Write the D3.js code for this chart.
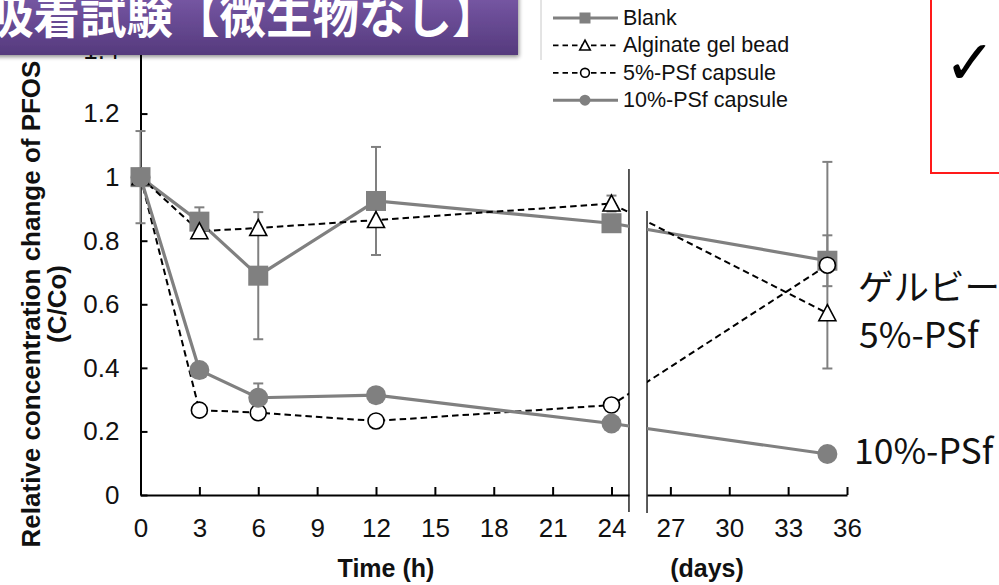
<!DOCTYPE html>
<html>
<head>
<meta charset="utf-8">
<script src="https://cdn.jsdelivr.net/npm/d3@7"></script>
<style>
  html, body { margin: 0; padding: 0; background: #fff; overflow: hidden; }
  svg { display: block; }
</style>
</head>
<body>
<svg id="chart" width="999" height="585"></svg>
<script>
// Sampling times (h); the last point sits on the "days" part of the axis
const times = [0, 3, 6, 12, 24, 35];
const seriesNames = ["Blank", "Alginate gel bead", "5%-PSf capsule", "10%-PSf capsule"];
// C/Co for each series
const blank    = [1.0, 0.86, 0.69, 0.925, 0.855, 0.737];
const alginate = [1.0, 0.83, 0.84, 0.865, 0.917, 0.572];
const psf5     = [1.0, 0.267, 0.259, 0.233, 0.283, 0.723];
const psf10    = [1.0, 0.393, 0.306, 0.314, 0.225, 0.129];
// Standard deviations (0 = no bar)
const blankErr    = [0.145, 0.045, 0.2, 0.17, 0, 0.08];
const alginateErr = [0, 0, 0, 0, 0.025, 0];
const psf5Err     = [0, 0, 0, 0, 0, 0.325];
const psf10Err    = [0, 0, 0.045, 0, 0, 0];
// Axis ticks
const hourTicks = [0, 3, 6, 9, 12, 15, 18, 21, 24];
const dayTicks = [27, 30, 33, 36];
const yTicks = [0, 0.2, 0.4, 0.6, 0.8, 1, 1.2, 1.4];
// Axis break (in axis units)
const breakStart = 24.89, breakEnd = 25.81;

const titleText = "吸着試験【微生物なし】";
const yTitle = ["Relative concentration change of PFOS", "(C/Co)"];
const notes = [
  { text: "ゲルビーズ", x: 858, y: 300 },
  { text: "5%-PSf", x: 859, y: 348 },
  { text: "10%-PSf", x: 854, y: 464 }
];

const GRAY = "#808080";
const FONT = "'Liberation Sans', Arial, Helvetica, sans-serif";

const svg = d3.select("#chart");

const x = d3.scaleLinear().domain([0, 36]).range([140.5, 847]);
const y = d3.scaleLinear().domain([0, 1.4]).range([495, 50]);

const xl = d3.scaleLinear().domain([0, breakStart]).range([x(0), x(breakStart)]);
const xr = d3.scaleLinear().domain([breakEnd, 36]).range([x(breakEnd), x(36)]);

// ---- axes ----
const axisStyle = g => {
  g.selectAll("path.domain").attr("stroke", "#000").attr("stroke-width", 2);
  g.selectAll(".tick line").attr("stroke", "#000").attr("stroke-width", 2);
  g.selectAll(".tick text").attr("font-family", FONT).attr("font-size", 26).attr("fill", "#111");
};

svg.append("g")
  .attr("transform", `translate(${x(0)},0)`)
  .call(d3.axisLeft(y).tickValues(yTicks).tickSizeInner(-7).tickSizeOuter(0).tickPadding(21)
    .tickFormat(d => String(d)))
  .call(axisStyle);

svg.append("g")
  .attr("transform", `translate(0,${y(0)})`)
  .call(d3.axisBottom(xl).tickValues(hourTicks).tickSizeInner(-8).tickSizeOuter(0).tickPadding(24))
  .call(axisStyle);

svg.append("g")
  .attr("transform", `translate(0,${y(0)})`)
  .call(d3.axisBottom(xr).tickValues(dayTicks).tickSizeInner(-8).tickSizeOuter(0).tickPadding(24))
  .call(axisStyle);

// break edges
svg.append("line").attr("x1", x(breakStart)).attr("x2", x(breakStart))
  .attr("y1", 169).attr("y2", 512).attr("stroke", "#000").attr("stroke-width", 1.3);
svg.append("line").attr("x1", x(breakEnd)).attr("x2", x(breakEnd))
  .attr("y1", 211).attr("y2", 513).attr("stroke", "#000").attr("stroke-width", 1.3);

// axis titles
svg.append("text").attr("x", 386).attr("y", 577).attr("text-anchor", "middle")
  .attr("font-family", FONT).attr("font-weight", "bold").attr("font-size", 25).attr("fill", "#111")
  .text("Time (h)");
svg.append("text").attr("x", 707).attr("y", 577).attr("text-anchor", "middle")
  .attr("font-family", FONT).attr("font-weight", "bold").attr("font-size", 25).attr("fill", "#111")
  .text("(days)");
const yt = svg.append("text").attr("transform", "translate(0,304) rotate(-90)")
  .attr("text-anchor", "middle").attr("font-family", FONT).attr("font-weight", "bold")
  .attr("font-size", 26).attr("fill", "#111");
yt.append("tspan").attr("x", 0).attr("y", 40).text(yTitle[0]);
yt.append("tspan").attr("x", 0).attr("y", 66).text(yTitle[1]);

// ---- data ----
const series = [
  { name: seriesNames[0], vals: blank, err: blankErr, dashed: false, marker: "square" },
  { name: seriesNames[1], vals: alginate, err: alginateErr, dashed: true, marker: "triangle" },
  { name: seriesNames[2], vals: psf5, err: psf5Err, dashed: true, marker: "open" },
  { name: seriesNames[3], vals: psf10, err: psf10Err, dashed: false, marker: "filled" }
];

const defs = svg.append("defs");
const clip = defs.append("clipPath").attr("id", "brk");
clip.append("rect").attr("x", 0).attr("y", 0).attr("width", x(breakStart)).attr("height", 585);
clip.append("rect").attr("x", x(breakEnd)).attr("y", 0).attr("width", 999 - x(breakEnd)).attr("height", 585);

const plot = svg.append("g");

// error bars
series.forEach(s => {
  times.forEach((t, i) => {
    const e = s.err[i];
    if (!e) return;
    const cx = x(t);
    const g = plot.append("g").attr("stroke", GRAY).attr("stroke-width", 2);
    g.append("line").attr("x1", cx).attr("x2", cx).attr("y1", y(s.vals[i] + e)).attr("y2", y(s.vals[i] - e));
    g.append("line").attr("x1", cx - 5).attr("x2", cx + 5).attr("y1", y(s.vals[i] + e)).attr("y2", y(s.vals[i] + e));
    g.append("line").attr("x1", cx - 5).attr("x2", cx + 5).attr("y1", y(s.vals[i] - e)).attr("y2", y(s.vals[i] - e));
  });
});

const line = d3.line().x(d => x(d.t)).y(d => y(d.v));

function drawMarker(g, type, cx, cy, scale) {
  const k = scale || 1;
  if (type === "square") {
    g.append("rect").attr("x", cx - 10 * k).attr("y", cy - 10 * k).attr("width", 20 * k).attr("height", 20 * k)
      .attr("fill", GRAY);
  } else if (type === "filled") {
    g.append("circle").attr("cx", cx).attr("cy", cy).attr("r", 10 * k).attr("fill", GRAY);
  } else if (type === "open") {
    g.append("circle").attr("cx", cx).attr("cy", cy).attr("r", 8 * k).attr("fill", "#fff")
      .attr("stroke", "#000").attr("stroke-width", 1.6);
  } else if (type === "triangle") {
    const p = d3.path();
    p.moveTo(cx, cy - 8.5 * k);
    p.lineTo(cx + 8.5 * k, cy + 7.5 * k);
    p.lineTo(cx - 8.5 * k, cy + 7.5 * k);
    p.closePath();
    g.append("path").attr("d", p.toString()).attr("fill", "#fff")
      .attr("stroke", "#000").attr("stroke-width", 1.6).attr("stroke-linejoin", "miter");
  }
}

series.forEach(s => {
  const pts = times.map((t, i) => ({ t, v: s.vals[i] }));
  plot.append("path").datum(pts).attr("d", line).attr("fill", "none")
    .attr("clip-path", "url(#brk)")
    .attr("stroke", s.dashed ? "#000" : GRAY)
    .attr("stroke-width", s.dashed ? 2 : 3.2)
    .attr("stroke-dasharray", s.dashed ? "6.5,4" : null);
});

series.forEach(s => {
  const g = plot.append("g");
  times.forEach((t, i) => drawMarker(g, s.marker, x(t), y(s.vals[i])));
});

// ---- legend ----
const legend = svg.append("g");
legend.append("line").attr("x1", 541).attr("x2", 541).attr("y1", 0).attr("y2", 60)
  .attr("stroke", "#c8c8c8").attr("stroke-width", 1);
series.forEach((s, i) => {
  const by = 25 + i * 27.4;
  const ly = by - 7;
  legend.append("line").attr("x1", 553).attr("x2", 618).attr("y1", ly).attr("y2", ly)
    .attr("stroke", s.dashed ? "#000" : GRAY)
    .attr("stroke-width", s.dashed ? 1.8 : 3)
    .attr("stroke-dasharray", s.dashed ? "5.5,4" : null);
  drawMarker(legend, s.marker, 585, ly, s.marker === "triangle" ? 0.62 : 0.55);
  legend.append("text").attr("x", 623).attr("y", by)
    .attr("font-family", FONT).attr("font-size", 21.5).attr("fill", "#111").text(s.name);
});

// ---- right-hand notes ----
notes.forEach(n => {
  svg.append("text").attr("x", n.x).attr("y", n.y)
    .attr("font-family", "'Noto Sans CJK JP', 'Noto Sans', sans-serif")
    .attr("font-size", 35.5).attr("fill", "#111").text(n.text);
});

// red framed box with check mark
svg.append("rect").attr("x", 931).attr("y", -10).attr("width", 100).attr("height", 183)
  .attr("fill", "none").attr("stroke", "#ff1a1a").attr("stroke-width", 2);
svg.append("text").attr("x", 970).attr("y", 84).attr("text-anchor", "middle")
  .attr("font-family", "'DejaVu Sans', sans-serif").attr("font-weight", "bold")
  .attr("font-size", 62).attr("fill", "#000")
  .text("✓");

// ---- title banner ----
const grad = defs.append("linearGradient").attr("id", "bannerGrad")
  .attr("x1", 0).attr("y1", 0).attr("x2", 0).attr("y2", 1);
grad.append("stop").attr("offset", "0%").attr("stop-color", "#7a5aa8");
grad.append("stop").attr("offset", "100%").attr("stop-color", "#553a7d");
const shadow = defs.append("filter").attr("id", "bannerShadow")
  .attr("x", "-10%").attr("y", "-10%").attr("width", "130%").attr("height", "150%");
shadow.append("feGaussianBlur").attr("in", "SourceAlpha").attr("stdDeviation", 2);
shadow.append("feOffset").attr("dx", 1).attr("dy", 2).attr("result", "b");
shadow.append("feComponentTransfer").append("feFuncA").attr("type", "linear").attr("slope", 0.45);
const merge = shadow.append("feMerge");
merge.append("feMergeNode");
merge.append("feMergeNode").attr("in", "SourceGraphic");

svg.append("rect").attr("x", -10).attr("y", -10).attr("width", 528).attr("height", 65)
  .attr("fill", "url(#bannerGrad)").attr("filter", "url(#bannerShadow)");
svg.append("text").attr("x", -13).attr("y", 33)
  .attr("font-family", "'Noto Sans CJK JP', sans-serif").attr("font-weight", "bold")
  .attr("font-size", 46.5).attr("fill", "#fff").text(titleText);
</script>
</body>
</html>
